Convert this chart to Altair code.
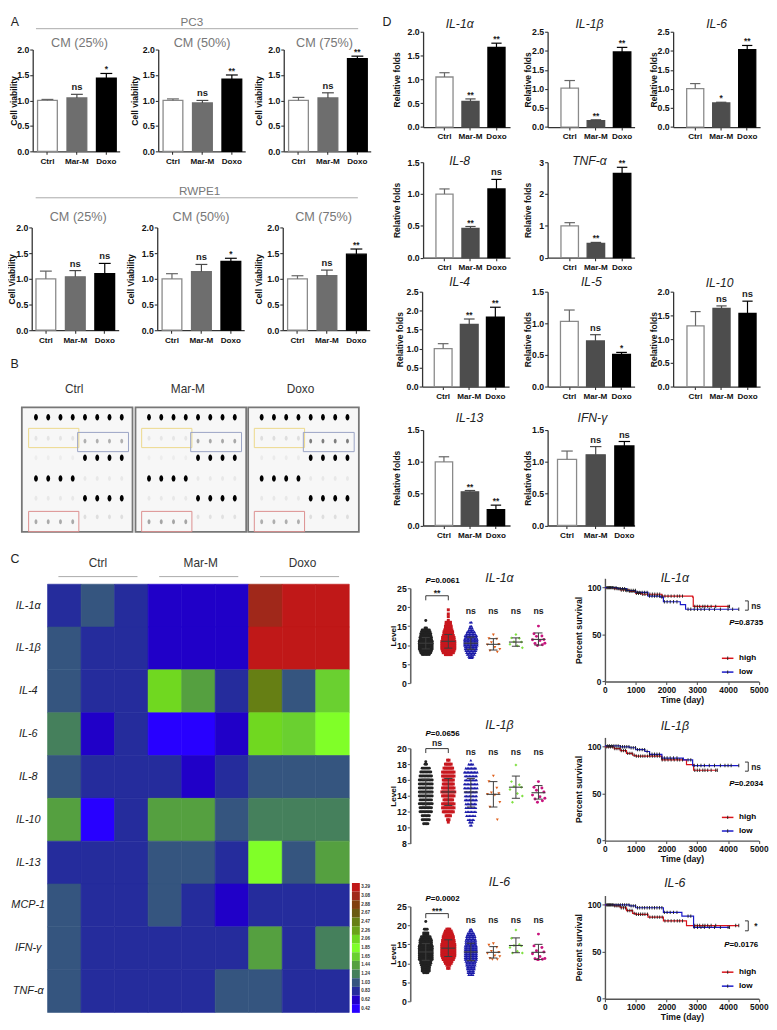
import altair as alt
import pandas as pd

FONT = "Liberation Sans"
ONE = pd.DataFrame({"k": [0]})
CATS = ["Ctrl", "Mar-M", "Doxo"]

# ---- Panel A values
A_VALUES = [[1.0, 1.05, 1.44], [1.0, 0.95, 1.42], [1.0, 1.05, 1.82],
            [1.0, 1.04, 1.10], [1.0, 1.14, 1.34], [1.0, 1.06, 1.48]]
A_TOPS = [[1.02, 1.12, 1.53], [1.03, 1.00, 1.50], [1.06, 1.15, 1.87],
          [1.15, 1.16, 1.30], [1.10, 1.28, 1.40], [1.06, 1.17, 1.58]]
A_MARKS = [["", "ns", "*"], ["", "ns", "**"], ["", "ns", "**"],
           ["", "ns", "ns"], ["", "ns", "*"], ["", "ns", "**"]]
CM_LABELS = ["CM (25%)", "CM (50%)", "CM (75%)"]

# ---- Panel D values
D_NAMES = ["IL-1α", "IL-1β", "IL-6", "IL-8", "TNF-α", "IL-4", "IL-5", "IL-10", "IL-13", "IFN-γ"]
D_VALUES = [[1.05, 0.54, 1.67], [1.02, 0.17, 1.97], [1.01, 0.63, 2.03], [1.0, 0.46, 1.08], [1.0, 0.45, 2.65],
            [1.0, 1.64, 1.83], [1.03, 0.72, 0.51], [1.28, 1.65, 1.54], [1.0, 0.53, 0.25], [1.04, 1.11, 1.25]]
D_TOPS = [[1.14, 0.59, 1.76], [1.22, 0.19, 2.09], [1.14, 0.65, 2.14], [1.08, 0.49, 1.23], [1.10, 0.48, 2.84],
          [1.13, 1.78, 2.09], [1.21, 0.82, 0.54], [1.58, 1.70, 1.80], [1.08, 0.55, 0.32], [1.17, 1.24, 1.32]]
D_MARKS = [["", "**", "**"], ["", "**", "**"], ["", "*", "**"], ["", "**", "ns"], ["", "**", "**"],
           ["", "**", "**"], ["", "ns", "*"], ["", "ns", "ns"], ["", "**", "**"], ["", "ns", "ns"]]
D_MAX = [2.0, 2.5, 2.5, 1.5, 3, 2.5, 1.5, 2.0, 1.5, 1.5]

# ---- Panel B grey levels (6 rows, left half then right half)
B_LEFT = [[0, 228, 237, 0, 232, 170], [0, 230, 237, 0, 232, 165], [0, 222, 235, 0, 232, 175]]
B_RIGHT = [[0, 176, 0, 232, 0, 222], [0, 168, 0, 232, 0, 225], [0, 125, 0, 232, 0, 222]]
B_ROW_LEFT = [1, 2.04, 3, 4.02, 5, 6.16]
B_ROW_RIGHT = [1, 2.18, 3, 4.02, 5, 5.92]
B_NAMES = ["Ctrl", "Mar-M", "Doxo"]

# ---- Panel C heat map
C_ROWS = ["IL-1α", "IL-1β", "IL-4", "IL-6", "IL-8", "IL-10", "IL-13", "MCP-1", "IFN-γ", "TNF-α"]
C_LEVELS = ["3.29", "3.08", "2.88", "2.67", "2.47", "2.26", "2.06", "1.85", "1.65", "1.44", "1.24", "1.03", "0.83", "0.62", "0.42"]
C_COLORS = ["#c01818", "#a0281a", "#80400f", "#6a5a12", "#667f14", "#6aa318", "#70d820", "#80ff28", "#6ad030", "#55a040",
            "#45805c", "#35557f", "#252c9c", "#2000c8", "#2800ff"]
C_MATRIX = [
    ["0.83", "1.03", "0.83", "0.62", "0.62", "0.62", "3.08", "3.29", "3.29"],
    ["1.03", "0.83", "0.83", "0.62", "0.62", "0.62", "3.29", "3.29", "3.29"],
    ["1.03", "0.83", "0.83", "2.06", "1.44", "0.83", "2.47", "1.03", "1.65"],
    ["1.24", "0.62", "0.83", "0.42", "0.42", "0.62", "2.06", "1.65", "1.85"],
    ["1.03", "0.83", "0.83", "0.83", "0.62", "0.83", "1.03", "1.03", "1.03"],
    ["1.44", "0.42", "0.83", "1.44", "1.44", "1.03", "1.24", "1.24", "1.24"],
    ["0.83", "0.83", "0.83", "1.03", "1.03", "0.83", "1.85", "1.03", "1.44"],
    ["1.03", "0.83", "0.83", "1.03", "0.83", "0.62", "0.83", "0.83", "0.83"],
    ["1.03", "0.83", "0.83", "0.83", "0.83", "0.83", "1.44", "0.83", "1.24"],
    ["1.03", "0.83", "0.83", "0.83", "0.83", "1.03", "1.03", "0.83", "0.83"],
]
LEVEL_COLOR = dict(zip(C_LEVELS, C_COLORS))

# ---- Panel E: swarm silhouettes as (level, points at that level)
E_GROUPS = ["NT", "CT", "HT", "TMT", "IT", "AT"]
E_FILLS = ["#222222", "#c8171e", "#1a1aa8", "#e0601c", "#7fe040", "#c8157e"]
E_SHAPES = ["circle", "square", "triangle-up", "triangle-down", "diamond", "circle"]
E1_NT_L = [7.5, 8, 8.5, 9, 9.5, 10, 10.5, 11, 11.5, 12, 12.5, 13, 13.5, 14, 14.5, 16.5]
E1_NT_N = [6, 8, 9, 10, 10, 10, 10, 10, 9, 9, 8, 8, 7, 6, 2, 1]
E1_CT_L = [7.5, 8, 8.5, 9, 9.5, 10, 10.5, 11, 11.5, 12, 12.5, 13, 13.5, 14, 14.5, 15, 15.5, 16, 16.5, 17.5, 18.2, 19.3]
E1_CT_N = [5, 8, 9, 10, 10, 10, 10, 10, 9, 9, 8, 7, 7, 6, 5, 5, 4, 4, 1, 1, 1, 1]
E1_HT_L = [6.7, 7, 7.5, 8, 8.5, 9, 9.5, 10, 10.5, 11, 11.5, 12, 12.5, 13, 13.5, 14, 14.5, 15, 16]
E1_HT_N = [3, 4, 6, 7, 8, 9, 9, 10, 10, 10, 10, 9, 9, 7, 6, 4, 3, 2, 2]
E2_NT_L = [10.5, 11, 11.5, 12, 12.5, 13, 13.5, 14, 14.5, 15, 15.5, 16, 16.5, 17, 17.5, 18, 18.3]
E2_NT_N = [4, 6, 6, 9, 9, 10, 9, 10, 10, 10, 10, 10, 9, 8, 6, 2, 1]
E2_CT_L = [10.7, 11, 11.5, 12, 12.5, 13, 13.5, 14, 14.5, 15, 15.5, 16, 16.5, 17, 17.5, 18, 18.5]
E2_CT_N = [1, 2, 4, 8, 9, 9, 7, 9, 10, 9, 8, 8, 9, 9, 7, 5, 2]
E2_HT_L = [10.3, 10.7, 11, 11.5, 12, 12.5, 13, 13.5, 14, 14.5, 15, 15.5, 16, 16.5, 17, 17.5, 18, 18.5]
E2_HT_N = [2, 3, 5, 7, 8, 8, 8, 9, 9, 9, 10, 10, 9, 9, 10, 8, 4, 1]
E3_NT_L = [7.5, 8, 8.5, 9, 9.5, 10, 10.5, 11, 11.5, 12, 12.5, 13, 13.5, 14, 14.5, 15, 15.5, 16, 16.5, 17, 17.5, 18, 19, 21]
E3_NT_N = [4, 6, 6, 6, 7, 8, 8, 10, 10, 10, 10, 10, 10, 10, 10, 9, 9, 9, 8, 7, 4, 4, 3, 1]
E3_CT_L = [8.7, 9.5, 10, 10.5, 11, 11.5, 12, 12.5, 13, 13.5, 14, 14.5, 15, 15.5, 16, 16.5, 17, 17.5, 18, 18.5, 19]
E3_CT_N = [2, 3, 5, 6, 8, 9, 10, 10, 10, 10, 10, 10, 10, 9, 9, 8, 8, 7, 6, 5, 3]
E3_HT_L = [7, 7.5, 8, 8.5, 9, 9.5, 10, 10.5, 11, 11.5, 12, 12.5, 13, 13.5, 14, 14.5, 15, 15.5, 16, 16.5, 17, 17.5, 18, 18.5, 19]
E3_HT_N = [4, 5, 5, 6, 6, 7, 7, 8, 9, 9, 9, 9, 9, 9, 9, 9, 8, 8, 8, 7, 7, 6, 5, 3, 2]
# small groups: individual values
E1_TMT = [12.7, 11.7, 11.6, 10.7, 10.2, 10.1, 9.4, 8.9, 8.5, 8.2]
E1_IT = [12.8, 11.9, 11.8, 10.9, 10.8, 10.2, 9.8, 9.3]
E1_AT = [15, 13, 12.4, 12.3, 11.5, 11.4, 11.2, 10.5, 10.4, 10.1, 9.9]
E2_TMT = [16.5, 15.8, 15, 14.4, 14.3, 14.2, 14.1, 13.2, 12.6, 11]
E2_IT = [17.9, 15.8, 15.4, 15.2, 15.1, 14.8, 14.3, 14, 13.2]
E2_AT = [15.8, 15.1, 15, 14.7, 14.5, 14.1, 13.9, 13.7, 13.6, 13.4, 13.2]
E3_TMT = [15.2, 14.8, 14.2, 13.2, 12.9, 12.6, 12, 11.8, 11.3, 11, 11]
E3_IT = [18.8, 16.6, 15, 14.7, 14.6, 14.2, 13.2, 12.7, 12.7]
E3_AT = [17.7, 14.6, 14.2, 13.3, 13, 12.5, 11.8, 11.3, 11.2, 11.1, 11, 11]
E1_MEAN = [10.5, 11, 10.5, 10.2, 10.8, 11.5]
E1_HI = [12, 12.8, 12.1, 11.7, 11.9, 13.2]
E1_LO = [9, 9.2, 8.9, 8.7, 9.7, 10]
E2_MEAN = [14.4, 14.5, 14.5, 14.2, 15.1, 14.4]
E2_HI = [16.1, 16.2, 16.2, 15.8, 16.5, 15.3]
E2_LO = [12.7, 12.8, 12.6, 12.6, 13.7, 13.6]
E3_MEAN = [13, 14, 13, 12.9, 14.7, 12.9]
E3_HI = [15.2, 16.2, 15.3, 14.4, 16.7, 15]
E3_LO = [10.8, 11.8, 10.7, 11.4, 12.8, 11]

# ---- Panel F: survival curves, (day, percent) steps
F1_HIGH = [(0, 100), (300, 99), (500, 97.5), (800, 96), (1000, 94), (1200, 93), (1800, 93), (1850, 91), (2850, 90), (2870, 80), (4050, 80)]
F1_LOW = [(0, 100), (400, 99), (700, 97), (1000, 95), (1400, 91), (1800, 90), (1900, 85), (2450, 82), (2620, 77), (4350, 77)]
F2_HIGH = [(0, 100), (300, 98), (500, 96), (700, 93), (900, 91), (1000, 90), (1750, 90), (1850, 86), (2550, 86), (2650, 81), (2880, 75), (3650, 75)]
F2_LOW = [(0, 101), (500, 100), (800, 99), (1000, 97), (1300, 95), (1450, 92), (1800, 92), (1850, 88), (2500, 88), (2550, 86), (2850, 80), (4350, 80)]
F3_HIGH = [(0, 100), (300, 99), (500, 97), (700, 94), (900, 91), (1000, 90), (1400, 87), (1800, 87), (1900, 83), (2600, 83), (2650, 78), (4350, 78)]
F3_LOW = [(0, 100), (500, 100), (800, 99), (1000, 97), (1750, 97), (1900, 92), (2450, 92), (2500, 88), (2850, 88), (2880, 76), (4050, 76)]
F_CENSOR_HIGH = [60, 120, 180, 250, 320, 390, 460, 530, 600, 670, 740, 810, 880, 950, 1020, 1090, 1160, 1230, 1300, 1380, 1460, 1540,
                 1620, 1700, 1780, 1860, 1950, 2050, 2150, 2250, 2350, 2430, 2520, 2920, 3000, 3080, 3180, 3250, 3340, 3450, 3600]
F_CENSOR_LOW = [90, 150, 220, 290, 360, 430, 500, 570, 640, 710, 780, 850, 920, 990, 1060, 1130, 1210, 1290, 1370, 1450, 1530,
                1610, 1690, 1770, 1850, 1930, 2020, 2120, 2230, 2340, 2700, 2790, 2900, 3010, 3120, 3230, 3390, 3560, 3750, 4000]
F_NAMES = ["IL-1α", "IL-1β", "IL-6"]
F_LAST_CENSOR = [[4000, 4050], [3650], [4250, 4350]]
F_LAST_LOW = [[4150, 4350], [3900, 4100, 4350], [4050]]
F_COLORS = {"high": "#d9131b", "low": "#1a1ac8"}


# ---- helpers
def note(o, x, y, text, size=8, color="black", weight="normal", style="normal", align="center", baseline="middle"):
    return alt.Chart(ONE).mark_text(text=text, font=FONT, fontSize=size, color=color, fontWeight=weight,
                                    fontStyle=style, align=align, baseline=baseline).encode(
        x=alt.value(x - o[0]), y=alt.value(y - o[1]))


def hline(o, x1, x2, y, color="#aaaaaa", w=1.0):
    return alt.Chart(ONE).mark_rule(color=color, strokeWidth=w).encode(
        x=alt.value(x1 - o[0]), x2=alt.value(x2 - o[0]), y=alt.value(y - o[1]))


def spacer(w=1, h=1):
    return alt.Chart(ONE).mark_point(opacity=0, size=1, strokeWidth=0).encode(x=alt.value(2), y=alt.value(2)).properties(
        width=max(w, 0.01), height=max(h, 0.01))


def hrow(items):
    """items: (page x, chart, width)"""
    parts, cur = [], 8.0
    for x, ch, w in items:
        parts.append(spacer(w=x - cur))
        parts.append(ch)
        cur = x + w
    return alt.hconcat(*parts, spacing=0, bounds="flush")


def vcol(items):
    """items: (page y, nested row); nested rows count as zero height"""
    parts, cur = [], 8.0
    for y, row in items:
        parts.append(spacer(h=y - cur))
        parts.append(row)
        cur = y
    return alt.vconcat(*parts, spacing=0, bounds="flush")


def bar_panel(px, py, w, h, ymax, ticks, vals, tops, marks, mid, lg, bw, st, ylabel, title_dx, fmt=".1f", extras=()):
    o = (px, py)
    df = pd.DataFrame({"cat": CATS, "v": vals, "t": tops, "m": marks,
                       "f": ["#ffffff", mid, "#000000"], "s": ["#8a8a8a", mid, "#000000"], "e": ["#666666", "#4a4a4a", "#000000"]})
    outer = w - 3 * bw - 2 * (st - bw)
    xs = alt.Scale(domain=CATS, paddingInner=(st - bw) / st, paddingOuter=outer / 2 / st, align=lg / outer)
    x = alt.X("cat:N", scale=xs, sort=CATS,
              axis=alt.Axis(title=None, labelAngle=0, labelFontSize=8.2, tickSize=3, labelPadding=3))
    ys = alt.Scale(domain=[0, ymax], nice=False)
    y = alt.Y("v:Q", scale=ys, axis=alt.Axis(title=ylabel, values=ticks, tickCount=20, format=fmt, titleX=title_dx, labelFontSize=8.8,
                                             titleFontSize=8.6, tickSize=3, labelPadding=1, labelOverlap=False, labelBound=False))
    base = alt.Chart(df)
    bars = base.mark_bar(strokeWidth=1.3).encode(x=x, y=y, fill=alt.Fill("f:N", scale=None), stroke=alt.Stroke("s:N", scale=None))
    ecol = alt.Color("e:N", scale=None)
    err = base.mark_rule(strokeWidth=1.2).encode(x=x, y=alt.Y("v:Q"), y2="t:Q", color=ecol)
    cap = base.mark_tick(size=bw * 0.6, thickness=1.2, opacity=1).encode(x=x, y=alt.Y("t:Q"), color=ecol)
    ns = base.transform_filter("datum.m == 'ns'").mark_text(
        font=FONT, fontSize=9.5, fontWeight="bold", baseline="middle", dy=-7, color="#222222").encode(
        x=x, y=alt.Y("t:Q"), text="m:N")
    star = base.transform_filter("datum.m == '*' || datum.m == '**'").mark_text(
        font=FONT, fontSize=8.5, fontWeight="bold", baseline="middle", dy=-4, color="#222222").encode(
        x=x, y=alt.Y("t:Q"), text="m:N")
    layers = [bars, err, cap, ns, star] + [e(o) for e in extras]
    return alt.layer(*layers).properties(width=w, height=h)


def blot_panel(px, py, w, h, idx, name, shift, extras=()):
    o = (px, py)
    rows = []
    for half, levels, rr, start in ((0, B_LEFT[idx], B_ROW_LEFT, 1), (1, B_RIGHT[idx], B_ROW_RIGHT, 5)):
        for r, (lv, ry) in enumerate(zip(levels, rr)):
            for c in range(4):
                rows.append({"col": start + c, "row": ry, "g": f"rgb({lv},{lv},{lv})", "sz": 42 if lv < 60 else 24})
    df = pd.DataFrame(rows)
    xsc = alt.Scale(domain=[-0.153 + shift, 8.88 + shift], nice=False, zero=False)
    ysc = alt.Scale(domain=[0.51, 6.66], reverse=True, nice=False, zero=False)
    frame_df = pd.DataFrame({"x": [-0.153 + shift], "x2": [8.88 + shift], "y": [0.51], "y2": [6.66]})
    bg = alt.Chart(frame_df).mark_rect(fill="#f7f7f7", stroke="#777777", strokeWidth=1.8).encode(
        x=alt.X("x:Q", scale=xsc, axis=None), x2="x2:Q", y=alt.Y("y:Q", scale=ysc, axis=None), y2="y2:Q")
    ell = "M-0.6,0a0.6,1 0 1,0 1.2,0a0.6,1 0 1,0 -1.2,0Z"
    dots = alt.Chart(df).mark_point(filled=True, opacity=1, shape=ell, strokeWidth=0).encode(
        x=alt.X("col:Q", scale=xsc, axis=None), y=alt.Y("row:Q", scale=ysc, axis=None),
        fill=alt.Fill("g:N", scale=None),
        size=alt.Size("sz:Q", scale=None))
    boxes_df = pd.DataFrame({"x": [0.4, 4.4, 0.4], "x2": [4.5, 8.55, 4.5], "y": [1.55, 1.75, 5.65], "y2": [2.5, 2.7, 6.65],
                             "c": ["#ecd98c", "#9aa3c4", "#dc8f8f"]})
    boxes = alt.Chart(boxes_df).mark_rect(fillOpacity=0, strokeWidth=1).encode(
        x=alt.X("x:Q", scale=xsc, axis=None), x2="x2:Q", y=alt.Y("y:Q", scale=ysc, axis=None), y2="y2:Q",
        stroke=alt.Stroke("c:N", scale=None))
    layers = [bg, dots, boxes, note(o, px + w / 2 - 3, 386, name, size=12, color="#333333")] + [e(o) for e in extras]
    return alt.layer(*layers).properties(width=w, height=h)


def swarm_rows(levels, counts, i, spacing=1.45):
    out = []
    for lv, n in zip(levels, counts):
        for k in range(n):
            out.append({"f": E_FILLS[i], "sh": E_SHAPES[i], "px": i + (k - (n - 1) / 2) * spacing / 22.8, "y": lv})
    return out


def small_rows(values, i):
    pat = [0, -4.5, 3.5, -2, 5.5, -6, 1.5, 6.5, -3.5, 4, -1]
    return [{"f": E_FILLS[i], "sh": E_SHAPES[i], "px": i + pat[k % len(pat)] / 22.8, "y": v} for k, v in enumerate(values)]


def swarm_panel(px, py, w, h, dom, ticks, big, small, mean, hi, lo, bracket, mark, mark_y, ns_y, pval, p_y, title, title_y):
    o = (px, py)
    rows = []
    for i, (L, N) in enumerate(big):
        rows += swarm_rows(L, N, i)
    for i, vals in enumerate(small):
        rows += small_rows(vals, i + 3)
    df = pd.DataFrame(rows)
    xsc = alt.Scale(domain=[-0.689, 5.67], nice=False, zero=False)
    ysc = alt.Scale(domain=dom, nice=False, zero=False)
    x_axis = alt.Axis(title=None, values=list(range(6)), tickCount=20, labelAngle=0, labelFontSize=8.8, tickSize=3, labelPadding=3,
                      domainWidth=1.6, domainColor="#666666", tickColor="#666666", labelOverlap=False,
                      labelExpr="['NT','CT','HT','TMT','IT','AT'][datum.value]")
    y_axis = alt.Axis(title="Level", values=ticks, tickCount=20, format="d", titleX=-13, labelFontSize=8.8, titleFontSize=8.2, tickSize=3,
                      labelPadding=1, domainWidth=1.6, domainColor="#666666", tickColor="#666666", labelOverlap=False, labelBound=False)
    pts = alt.Chart(df).mark_point(filled=True, opacity=1, size=9, strokeWidth=0).encode(
        x=alt.X("px:Q", scale=xsc, axis=x_axis), y=alt.Y("y:Q", scale=ysc, axis=y_axis),
        fill=alt.Fill("f:N", scale=None), shape=alt.Shape("sh:N", scale=None))
    st = pd.DataFrame({"i": list(range(6)), "m": mean, "hi": hi, "lo": lo})
    st["a"] = st.i - 0.31
    st["b"] = st.i + 0.31
    st["c"] = st.i - 0.18
    st["d"] = st.i + 0.18
    col = "#3d3d3d"
    base = alt.Chart(st)
    X = alt.X("a:Q", scale=xsc, axis=None)
    mean_l = base.mark_rule(color=col, strokeWidth=1.1).encode(x=X, x2="b:Q", y=alt.Y("m:Q", scale=ysc))
    sd = base.mark_rule(color=col, strokeWidth=1).encode(x=alt.X("i:Q", scale=xsc), y=alt.Y("lo:Q", scale=ysc), y2="hi:Q")
    c1 = base.mark_rule(color=col, strokeWidth=1).encode(x=alt.X("c:Q", scale=xsc), x2="d:Q", y=alt.Y("hi:Q", scale=ysc))
    c2 = base.mark_rule(color=col, strokeWidth=1).encode(x=alt.X("c:Q", scale=xsc), x2="d:Q", y=alt.Y("lo:Q", scale=ysc))
    br = pd.DataFrame({"x1": [0, 0, 1], "x2": [1, 0, 1], "y1": [bracket[0], bracket[0], bracket[0]], "y2": [bracket[0], bracket[1], bracket[1]]})
    brk = alt.Chart(br).mark_rule(color="#222222", strokeWidth=0.9).encode(
        x=alt.X("x1:Q", scale=xsc), x2="x2:Q", y=alt.Y("y1:Q", scale=ysc), y2="y2:Q")
    txt = pd.DataFrame({"x": [0.5, 2, 3, 4, 5], "y": [mark_y] + [ns_y] * 4, "t": [mark, "ns", "ns", "ns", "ns"]})
    labels = alt.Chart(txt).mark_text(font=FONT, fontSize=8.8, fontWeight="bold", color="#222222", baseline="middle").encode(
        x=alt.X("x:Q", scale=xsc), y=alt.Y("y:Q", scale=ysc), text="t:N")
    layers = [pts, mean_l, sd, c1, c2, brk, labels,
              note(o, 433.5, p_y, "P", size=8, weight="bold", style="italic", align="right"),
              note(o, 433.5, p_y, pval, size=8, weight="bold", align="left"),
              note(o, 503, title_y, title, size=12.5, style="italic", color="#222222")]
    return alt.layer(*layers).properties(width=w, height=h)


def at(curve, t):
    s = curve[0][1]
    for ct, cs in curve:
        if ct <= t:
            s = cs
    return s


def surv_panel(px, py, w, h, idx, high, low, brack, mark, mark_x, pval, pval_x, pval_y, leg_y, lab_y, title_y, xtitle):
    o = (px, py)
    rows = [{"s": "high", "c": F_COLORS["high"], "t": t, "p": p} for t, p in high] + \
           [{"s": "low", "c": F_COLORS["low"], "t": t, "p": p} for t, p in low]
    df = pd.DataFrame(rows)
    xsc = alt.Scale(domain=[0, 5000], nice=False)
    ysc = alt.Scale(domain=[0, 110], nice=False)
    xa = alt.Axis(title=xtitle, values=[0, 1000, 2000, 3000, 4000, 5000], tickCount=20, format="d", labelAngle=0, labelFontSize=8.4, titleFontSize=8.8,
                  tickSize=3, labelPadding=1, titlePadding=2, domainWidth=1.4, domainColor="#555555", tickColor="#555555",
                  labelOverlap=False, labelBound=False)
    ya = alt.Axis(title="Percent survival", values=[0, 50, 100], tickCount=20, format="d", titleX=-22, labelFontSize=8.4, titleFontSize=8.8,
                  tickSize=3, labelPadding=1, domainWidth=1.4, domainColor="#555555", tickColor="#555555", labelOverlap=False, labelBound=False)
    col = alt.Color("c:N", scale=None)
    lines = alt.Chart(df).mark_line(interpolate="step-after", strokeWidth=1.2).encode(
        x=alt.X("t:Q", scale=xsc, axis=xa), y=alt.Y("p:Q", scale=ysc, axis=ya), color=col, detail="s:N")
    c_rows = [{"t": t, "p": at(high, t)} for t in F_CENSOR_HIGH + F_LAST_CENSOR[idx] if t <= high[-1][0]]
    c_rows += [{"t": t, "p": at(low, t)} for t in F_CENSOR_LOW + F_LAST_LOW[idx] if t <= low[-1][0]]
    cens = alt.Chart(pd.DataFrame(c_rows)).mark_tick(orient="vertical", size=3.4, thickness=0.9, color="#1a1a1a", opacity=1).encode(
        x=alt.X("t:Q", scale=xsc), y=alt.Y("p:Q", scale=ysc))
    leg = pd.DataFrame({"c": [F_COLORS["high"], F_COLORS["low"]], "a": [3800, 3800], "b": [4175, 4175], "m": [3990, 3990], "y": leg_y})
    l1 = alt.Chart(leg).mark_rule(strokeWidth=1.5).encode(x=alt.X("a:Q", scale=xsc), x2="b:Q", y=alt.Y("y:Q", scale=ysc), color=col)
    l2 = alt.Chart(leg).mark_tick(orient="vertical", size=3.4, thickness=0.9, color="#1a1a1a", opacity=1).encode(
        x=alt.X("m:Q", scale=xsc), y=alt.Y("y:Q", scale=ysc))
    br = pd.DataFrame({"x1": [4550, 4550, 4657], "x2": [4657, 4657, 4657], "y1": [brack[0], brack[1], brack[0]], "y2": [brack[0], brack[1], brack[1]]})
    brk = alt.Chart(br).mark_rule(color="#222222", strokeWidth=0.9).encode(
        x=alt.X("x1:Q", scale=xsc), x2="x2:Q", y=alt.Y("y1:Q", scale=ysc), y2="y2:Q")
    txt_y = (brack[0] + brack[1]) / 2
    mtxt = alt.Chart(pd.DataFrame({"x": [mark_x], "y": [txt_y], "t": [mark]})).mark_text(
        font=FONT, fontSize=8.5, fontWeight="bold", color="#222222", align="left", baseline="middle").encode(
        x=alt.X("x:Q", scale=xsc), y=alt.Y("y:Q", scale=ysc), text="t:N")
    lx = px + 135.7
    layers = [lines, cens, l1, l2, brk, mtxt,
              note(o, pval_x, pval_y, "P", size=8, weight="bold", style="italic", align="right"),
              note(o, pval_x, pval_y, pval, size=8, weight="bold", align="left"),
              note(o, lx, lab_y[0], "high", size=8.2, weight="bold", align="left"),
              note(o, lx, lab_y[1], "low", size=8.2, weight="bold", align="left"),
              note(o, 680.7, title_y, F_NAMES[idx], size=12.5, style="italic", color="#222222")]
    return alt.layer(*layers).properties(width=w, height=h)


def tnote(*a, **k):
    return lambda o: note(o, *a, **k)


def tline(*a, **k):
    return lambda o: hline(o, *a, **k)


HEAD = "#777777"
MID_A = "#6e6e6e"
MID_D = "#4d4d4d"
T20 = [0, 0.5, 1.0, 1.5, 2.0]
T25 = [0, 0.5, 1.0, 1.5, 2.0, 2.5]
T15 = [0, 0.5, 1.0, 1.5]


def a_panel(i, px, py, h, dx, label, title_x, title_y, lg, extras=()):
    ex = [tnote(title_x, title_y, label, size=12.8, color=HEAD)] + list(extras)
    return bar_panel(px, py, 88, h, 2.0, T20, A_VALUES[i], A_TOPS[i], A_MARKS[i], MID_A, lg, 20, 29.8,
                     "Cell viability" if i < 3 else "Cell Viability", dx, extras=ex)


row_a1 = hrow([
    (30.7, a_panel(0, 30.7, 43.3, 103, -14, CM_LABELS[0], 78, 37, 4.9, extras=[
        tnote(8.5, 15.5, "A", size=12.5, color="#222222", align="left"),
        tnote(191.7, 15, "PC3", size=11.8, color=HEAD), tline(34, 360, 22.2)]), 88),
    (157.3, a_panel(1, 157.3, 43.3, 103, -19, CM_LABELS[1], 201.7, 37, 4.9), 88),
    (283.7, a_panel(2, 283.7, 43.3, 103, -20, CM_LABELS[2], 325, 37, 4.9), 88),
])
row_a2 = hrow([
    (30, a_panel(3, 30, 222.7, 104, -15, CM_LABELS[0], 77, 212, 4.3, extras=[
        tnote(200, 186, "RWPE1", size=11.8, color=HEAD), tline(34, 360, 192.7)]), 88),
    (156.7, a_panel(4, 156.7, 222.7, 104, -22, CM_LABELS[1], 201, 212, 4.9), 88),
    (283.7, a_panel(5, 283.7, 222.7, 104, -20, CM_LABELS[2], 325, 212, 4.9), 88),
])
row_b = hrow([
    (20, blot_panel(20, 404, 112, 126, 0, "Ctrl", 0, extras=[tnote(8.5, 360, "B", size=12.5, color="#222222", align="left")]), 112),
    (135, blot_panel(135, 404, 112, 126, 1, "Mar-M", 0.05), 112),
    (249, blot_panel(249, 404, 112, 126, 2, "Doxo", 0.05), 112),
])

# heat map
heat_rows = [{"r": C_ROWS[i], "c": j, "lv": C_MATRIX[i][j], "col": LEVEL_COLOR[C_MATRIX[i][j]]} for i in range(10) for j in range(9)]
hx, hy = 46, 582.7
o_h = (hx, hy)
heat = alt.layer(
    alt.Chart(pd.DataFrame(heat_rows)).mark_rect(strokeWidth=0.6).encode(
        x=alt.X("c:O", axis=None, scale=alt.Scale(paddingInner=0, paddingOuter=0)),
        y=alt.Y("r:N", sort=C_ROWS, scale=alt.Scale(domain=C_ROWS, paddingInner=0, paddingOuter=0),
                axis=alt.Axis(title=None, labelFontSize=11, labelFontStyle="italic", labelFontWeight="normal", labelColor="#222222",
                              labelAlign="center", labelPadding=20, tickSize=0, domain=False)),
        color=alt.Color("col:N", scale=None), stroke=alt.Stroke("col:N", scale=None)),
    note(o_h, 8.5, 557, "C", size=12.5, color="#222222", align="left"),
    note(o_h, 97, 561, "Ctrl", size=12, color="#333333"),
    note(o_h, 201, 561, "Mar-M", size=12, color="#333333"),
    note(o_h, 304, 561, "Doxo", size=12, color="#333333"),
    hline(o_h, 57, 137, 575), hline(o_h, 159, 239, 575), hline(o_h, 261, 341, 575),
).properties(width=305.3, height=433.3)
legend_panel = alt.Chart(pd.DataFrame({"lv": C_LEVELS, "col": C_COLORS})).mark_rect().encode(
    x=alt.value(0), x2=alt.value(8),
    y=alt.Y("lv:N", sort=C_LEVELS, scale=alt.Scale(domain=C_LEVELS, range=[302.3, 433.7], paddingInner=0, paddingOuter=0),
            axis=alt.Axis(orient="right", title=None, labelFontSize=4.6, labelFontWeight="bold", labelColor="#333333",
                          tickSize=0, labelPadding=1, domain=False)),
    color=alt.Color("col:N", scale=None)).properties(width=8, height=433.3)
row_c = hrow([(46, heat, 305.3), (352.7, legend_panel, 8)])


def d_panel(i, px, py, h, dx, lg, bw, st, title_x, title_y, fmt=".1f", ticks=None, extras=()):
    m = D_MAX[i]
    t = ticks or {1.5: T15, 2.0: T20, 2.5: T25}[m]
    ex = [tnote(title_x, title_y, D_NAMES[i], size=12.3, style="italic", color="#222222")] + list(extras)
    return bar_panel(px, py, 88, h, m, t, D_VALUES[i], D_TOPS[i], D_MARKS[i], MID_D, lg, bw, st, "Relative folds", dx, fmt=fmt, extras=ex)


row_d1 = hrow([
    (426, d_panel(0, 426, 25.3, 96.4, -22, 13, 17.3, 26.3, 463, 18,
                  extras=[tnote(385, 15.5, "D", size=12.5, color="#222222", align="left")]), 88),
    (551.7, d_panel(1, 551.7, 25.3, 96.4, -15.5, 13.5, 17.7, 26.5, 594, 18), 88),
    (678, d_panel(2, 678, 25.3, 96.4, -15, 13.7, 17.3, 26.3, 722, 18), 88),
])
row_d2 = hrow([
    (426, d_panel(3, 426, 156.7, 96.6, -22, 13, 17.3, 26.3, 463, 156), 88),
    (551.7, d_panel(4, 551.7, 156.7, 96.6, -15.5, 13.5, 17.7, 26.5, 594, 156, fmt="d", ticks=[0, 1, 2, 3]), 88),
])
row_d3 = hrow([
    (425, d_panel(5, 425, 287.5, 96, -18, 12.3, 18, 26.4, 463, 278), 88),
    (551.7, d_panel(6, 551.7, 287.5, 96, -15.5, 13, 18, 26.4, 596, 278), 88),
    (678, d_panel(7, 678, 287, 96, -15, 14, 17.3, 26.3, 725, 278), 88),
])
row_d4 = hrow([
    (426, d_panel(8, 426, 426.7, 96.6, -22, 12.3, 17.6, 26.3, 473, 415), 88),
    (551.7, d_panel(9, 551.7, 426.7, 96.6, -15.5, 10, 19.3, 29, 597, 415), 88),
])

panel_e1 = swarm_panel(412.7, 588.3, 145, 96, [0, 25], [0, 5, 10, 15, 20, 25],
                       [(E1_NT_L, E1_NT_N), (E1_CT_L, E1_CT_N), (E1_HT_L, E1_HT_N)], [E1_TMT, E1_IT, E1_AT],
                       E1_MEAN, E1_HI, E1_LO, (23.0, 21.8), "**", 23.6, 18.9, "=0.0061", 581, "IL-1α", 577.7)
panel_e2 = swarm_panel(412.7, 750.3, 145, 96.4, [8, 20], [8, 10, 12, 14, 16, 18, 20],
                       [(E2_NT_L, E2_NT_N), (E2_CT_L, E2_CT_N), (E2_HT_L, E2_HT_N)], [E2_TMT, E2_IT, E2_AT],
                       E2_MEAN, E2_HI, E2_LO, (19.96, 19.4), "ns", 20.6, 19.5, "=0.0656", 736, "IL-1β", 726.7)
panel_e3 = swarm_panel(412.7, 909.7, 145, 96, [0, 25], [0, 5, 10, 15, 20, 25],
                       [(E3_NT_L, E3_NT_N), (E3_CT_L, E3_CT_N), (E3_HT_L, E3_HT_N)], [E3_TMT, E3_IT, E3_AT],
                       E3_MEAN, E3_HI, E3_LO, (23.1, 21.9), "***", 23.9, 21.5, "=0.0002", 902, "IL-6", 885)
panel_f1 = surv_panel(610, 578.3, 155.7, 104.4, 0, F1_HIGH, F1_LOW, (85.9, 76), "ns", 4750, "=0.8735", 741, 623.7, [24.7, 10],
                      [659.3, 673.3], 578, "Time  (day)")
panel_f2 = surv_panel(610, 739, 155.7, 104.4, 1, F2_HIGH, F2_LOW, (83.7, 74), "ns", 4750, "=0.2034", 741, 785.7, [24.7, 10.2],
                      [820, 833.7], 727.7, "Time  (day)")
panel_f3 = surv_panel(610, 898.3, 155.7, 104.4, 2, F3_HIGH, F3_LOW, (83, 72.4), "*", 4850, "=0.0176", 736, 948, [28.3, 13.4],
                      [976, 990], 886, "Time  (day)")

col_left = vcol([(43.3, row_a1), (222.7, row_a2), (404, row_b), (582.7, row_c)])
col_d = vcol([(25.3, row_d1), (156.7, row_d2), (287, row_d3), (426.7, row_d4)])
col_e = vcol([(588.3, hrow([(412.7, panel_e1, 145)])), (750.3, hrow([(412.7, panel_e2, 145)])), (909.7, hrow([(412.7, panel_e3, 145)]))])
col_f = vcol([(578.3, hrow([(610, panel_f1, 155.7)])), (739, hrow([(610, panel_f2, 155.7)])), (898.3, hrow([(610, panel_f3, 155.7)]))])

chart = alt.hconcat(col_left, col_d, col_e, col_f, spacing=0, bounds="flush").properties(padding=0, background="white").configure_view(
    stroke=None
).configure_axis(
    grid=False, labelFont=FONT, titleFont=FONT, labelFontWeight="bold", titleFontWeight="bold", labelColor="#111111", titleColor="#111111",
    domainColor="#333333", tickColor="#333333", domainWidth=1.3, tickWidth=1.1, labelOverlap=False, labelFlush=False
)
chart.save("out.html", embed_options={"renderer": "svg", "actions": False})
